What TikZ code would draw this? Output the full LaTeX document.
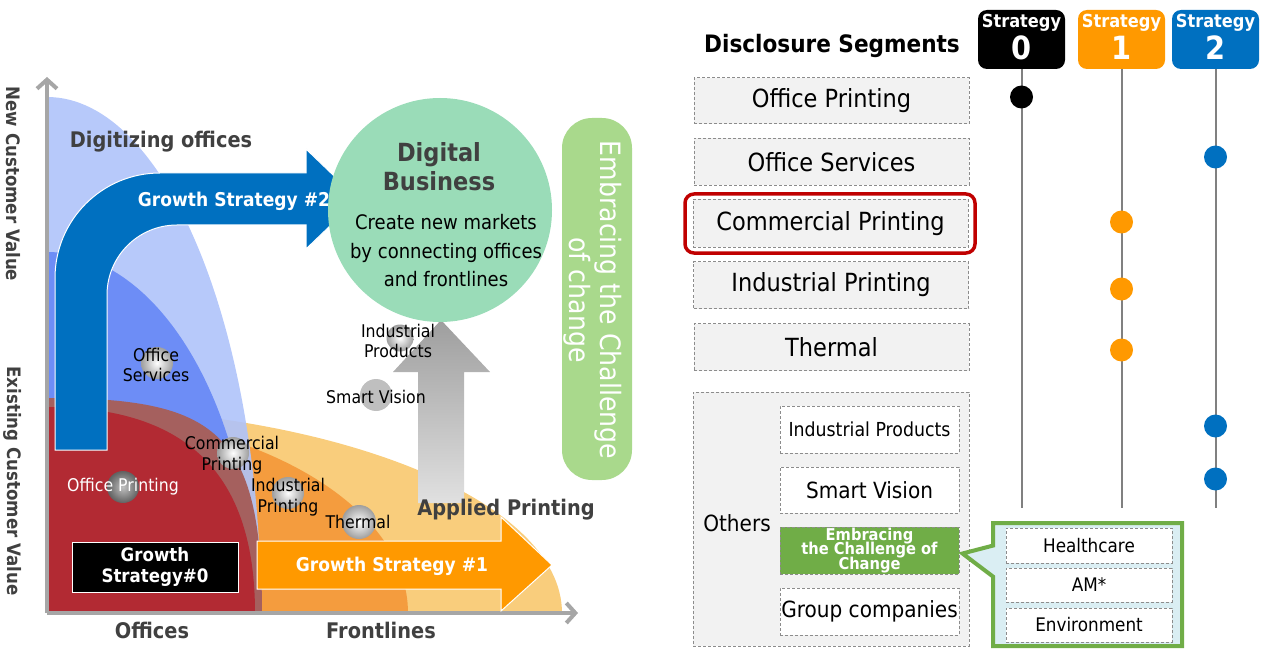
\documentclass[tikz,border=0pt]{standalone}
\usepackage{fontspec}
\setmainfont{DejaVu Sans}[FakeStretch=0.9]
\usetikzlibrary{arrows.meta,shapes.callouts,calc}

\definecolor{txtgray}{HTML}{404040}
\definecolor{lblue}{HTML}{AFC3FA}
\definecolor{mblue}{HTML}{6D8DF6}
\definecolor{lorange}{HTML}{F9CD7C}
\definecolor{morange}{HTML}{F49C3E}
\definecolor{opred}{HTML}{B22A33}
\definecolor{opband}{HTML}{A5605E}
\definecolor{gsblue}{HTML}{0070C0}
\definecolor{gsorange}{HTML}{FF9900}
\definecolor{dbgreen}{HTML}{9ADCB8}
\definecolor{chgreen}{HTML}{A9D98C}
\definecolor{ecgreen}{HTML}{70AD47}
\definecolor{seggray}{HTML}{F2F2F2}
\definecolor{calloutbg}{HTML}{DAEEF3}
\definecolor{hlred}{HTML}{C00000}
\newcommand\fsz[2]{\fontsize{#1}{#2}\selectfont}
\newcommand\tightlines{\lineskiplimit=-20pt\relax}

\begin{document}
\begin{tikzpicture}[x=1pt,y=-1pt,
  txt/.style={inner sep=0pt,align=center},
  axis/.style={draw=black!35,line width=4pt,-{Straight Barb[length=9pt,width=20pt]}},
  tag/.style={txt,font=\fsz{17.5}{20.5}},
  hd/.style={txt,font=\bfseries\fsz{21.5}{25},text=txtgray},
  bubble/.style={circle,inner sep=0pt,minimum size=32pt,inner color=white,outer color=black!38},
  seg/.style={draw=black!45,dash pattern=on 3pt off 2pt,line width=1pt,fill=seggray,align=center,
    minimum width=275pt,minimum height=46pt,inner sep=0pt,font=\fsz{25}{30}},
  sub/.style={seg,fill=white,minimum width=179pt,minimum height=47pt,font=\fsz{22.3}{26}},
  smallbox/.style={seg,fill=white,minimum width=166pt,minimum height=35pt,font=\fsz{18.7}{22}},
  strat/.style={rounded corners=9pt,minimum width=87pt,minimum height=59pt,inner sep=0pt},
  strattxt/.style={txt,text=white,font=\bfseries\fsz{18}{20}},
  stratnum/.style={txt,text=white,font=\bfseries\fsz{32}{36}},
  dot/.style={circle,inner sep=0pt,minimum size=23pt},
  vline/.style={draw=black!50,line width=2pt}]
\useasboundingbox (0,0) rectangle (1269,655);

% ---- market map ----
\coordinate (o) at (47,613);
\begin{scope}
\clip (47,60) rectangle (620,613);
\fill[lorange] (o) ellipse [x radius=515,y radius=206];
\fill[morange] (o) ellipse [x radius=361,y radius=201];
\fill[lblue,opacity=.9] (o) ellipse [x radius=214,y radius=516];
\fill[mblue] (o) ellipse [x radius=207,y radius=361];
\fill[opband] (47,613) -- (47,398) .. controls (215,398) and (262,430) .. (262,613) -- cycle;
\fill[opred] (47,613) -- (47,407) .. controls (188,407) and (255,475) .. (255,613) -- cycle;
\end{scope}

\draw[axis] (o) -- (47,77);
\draw[axis] (o) -- (578,613);

% growth strategy arrows
\fill[gsblue,draw=white,line width=1pt] (55,450) -- (55,278)
  arc[start angle=180,end angle=270,radius=105] -- (306,173) -- (306,149)
  -- (358,199) -- (306,249) -- (306,225) -- (177,225)
  arc[start angle=270,end angle=180,radius=70] -- (107,450) -- cycle;
\node[txt,text=white,font=\bfseries\fsz{19}{22}] (gs2) at (234,201) {Growth Strategy \#2};

\fill[gsorange,draw=white,line width=1pt] (257,541) -- (501,541) -- (501,517)
  -- (552,565) -- (501,611) -- (501,589) -- (257,589) -- cycle;
\node[txt,text=white,font=\bfseries\fsz{19}{22}] (gs1) at (392,566) {Growth Strategy \#1};

\node[fill=black,draw=white,line width=1pt,minimum width=166pt,minimum height=50pt,
  txt,text=white,font=\bfseries\fsz{18.5}{21}] (gs0) at (155,567) {Growth\\Strategy\#0};

\shade[top color=black!38,bottom color=black!12] (418,503) -- (418,372) -- (393,372)
  -- (441,320) -- (490,372) -- (464,372) -- (464,503) -- cycle;

\node[hd,font=\bfseries\fsz{18.5}{22},rotate=-90] (ncv) at (13,184) {New Customer Value};
\node[hd,font=\bfseries\fsz{18.5}{22},rotate=-90] (ecv) at (13,481) {Existing Customer Value};
\node[hd] (off) at (152,630) {Offices};
\node[hd] (fro) at (381,630) {Frontlines};
\node[hd] (dig) at (161,142) {Digitizing offices};
\node[hd] (app) at (506,510) {Applied Printing};

% digital business
\node[circle,fill=dbgreen,minimum size=224pt] (db) at (440,210) {};
\node[txt,font=\bfseries\fsz{25}{29},text=txtgray] (dbt) at (439,167) {Digital\\Business};
\node[txt,font=\fsz{20}{28.5}] (dbs) at (446,251) {Create new markets\\by connecting offices\\and frontlines};

\node[rounded corners=30pt,fill=chgreen,minimum width=70pt,minimum height=362pt] (ch) at (597,299) {};
\node[txt,rotate=-90,text=white,font=\fsz{28}{31}] (cht) at (593,300) {Embracing the Challenge\\of change};

% segments on the map
\node[bubble,inner color=black!25,outer color=black!62] (b1) at (123,487) {};
\node[tag,text=white] at (b1) {Office Printing};
\node[bubble] (b2) at (157,363) {};
\node[tag] at (156,365) {Office\\Services};
\node[bubble] (b3) at (233,453) {};
\node[tag] at (232,455) {Commercial\\Printing};
\node[bubble] (b4) at (288,493) {};
\node[tag] at (288,497) {Industrial\\Printing};
\node[bubble,minimum size=34pt] (b5) at (359,522) {};
\node[tag] at (358,522) {Thermal};
\node[bubble,minimum size=27pt] (b6) at (400,338) {};
\node[tag] at (398,341) {Industrial\\Products};
\node[circle,fill=black!25,minimum size=32pt] (b7) at (376,395) {};
\node[tag] at (376,397) {Smart Vision};

% ---- disclosure segments ----
\node[txt,font=\bfseries\fsz{24}{28}] (ds) at (832,46) {Disclosure Segments};

\node[strat,fill=black] (s0) at (1021.5,39.5) {};
\node[strat,fill=gsorange] (s1) at (1121.5,39.5) {};
\node[strat,fill=gsblue] (s2) at (1215.5,39.5) {};
\node[strattxt] at (1021.5,23) {Strategy};
\node[strattxt] at (1121.5,23) {Strategy};
\node[strattxt] at (1215.5,23) {Strategy};
\node[stratnum] at (1021.5,48) {0};
\node[stratnum] at (1121.5,48) {1};
\node[stratnum] at (1215.5,48) {2};

\coordinate (e0) at (1021.5,508);
\coordinate (e1) at (1121.5,508);
\coordinate (e2) at (1215.5,508);
\draw[vline] (s0) -- (e0);
\draw[vline] (s1) -- (e1);
\draw[vline] (s2) -- (e2);

\node[seg] (op) at (831.5,101) {Office Printing};
\node[seg,minimum height=47pt] (os) at (831.5,162) {Office Services};
\node[seg,minimum height=48pt] (cp) at (830.5,223.5) {Commercial Printing};
\node[draw=hlred,line width=3.5pt,rounded corners=9pt,minimum width=290pt,minimum height=59pt] (hl) at (830,223.5) {};
\node[seg,minimum height=47pt] (ip) at (831,285) {Industrial Printing};
\node[seg,minimum height=47pt] (th) at (831.5,347) {Thermal};

\node[seg,minimum width=276pt,minimum height=254pt] (ot) at (831,519) {};
\node[txt,font=\fsz{22.3}{26}] (ott) at (737,523) {Others};
\node[sub,font=\fsz{19.3}{23}] (ipr) at (869.5,429.5) {Industrial Products};
\node[sub,minimum height=46pt] (sv) at (869.5,490) {Smart Vision};
\node[sub,fill=ecgreen,text=white,font=\bfseries\fsz{16.3}{14.8}\tightlines] (ec) at (869.5,550.5) {Embracing\\the Challenge of\\Change};
\node[sub] (gc) at (869.5,611.5) {Group companies};

\node[rectangle callout,draw=ecgreen,line width=4pt,fill=calloutbg,minimum width=189pt,
  minimum height=123pt,callout absolute pointer={($(ec.east)+(3,3)$)},callout pointer width=31pt] (cb) at (1087.5,584.5) {};
\node[smallbox] (hc) at (1089,545.5) {Healthcare};
\node[smallbox,minimum height=34pt] (am) at (1089,585) {AM*};
\node[smallbox,minimum height=34pt] (env) at (1089,625) {Environment};

\node[dot,fill=black] (p1) at (1021.5,97) {};
\node[dot,fill=gsblue] (p2) at (1215.5,157) {};
\node[dot,fill=gsorange] (p3) at (1121.5,222) {};
\node[dot,fill=gsorange] (p4) at (1121.5,289) {};
\node[dot,fill=gsorange] (p5) at (1121.5,350) {};
\node[dot,fill=gsblue] (p6) at (1215.5,426) {};
\node[dot,fill=gsblue] (p7) at (1215.5,479) {};
\end{tikzpicture}
\end{document}
